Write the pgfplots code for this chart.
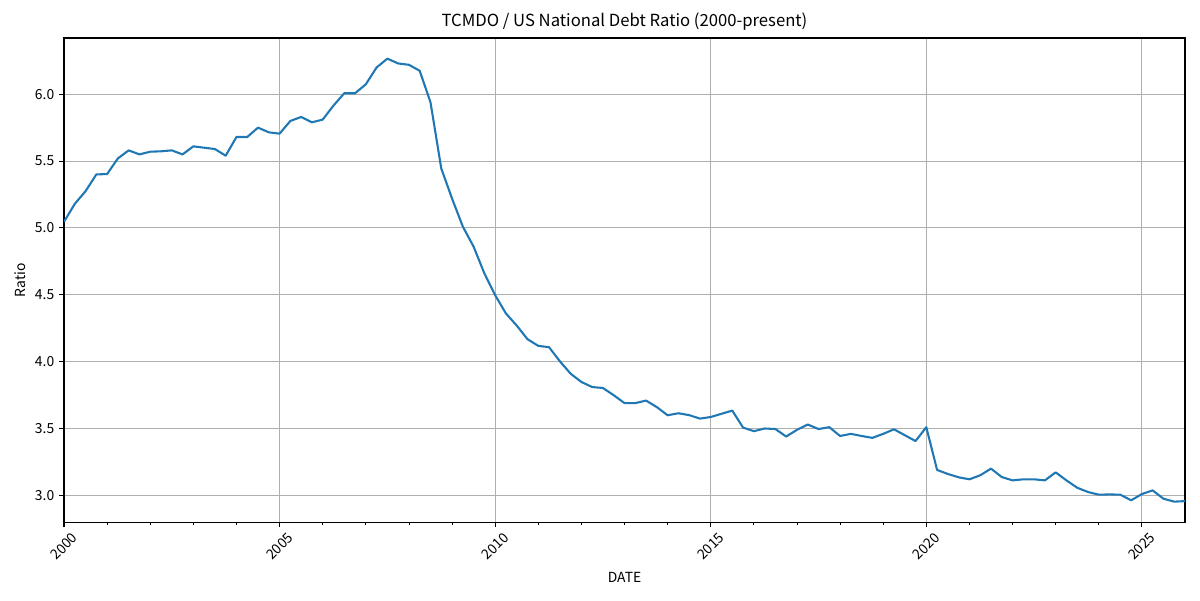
\documentclass[border=0pt]{standalone}
\usepackage{fontspec}
\setmainfont{Noto Sans CJK JP}
\usepackage{pgfplots}
\usepackage{pgfplotstable}
\pgfplotsset{compat=1.18}
\definecolor{tabblue}{HTML}{1F77B4}
\definecolor{gridgray}{HTML}{B0B0B0}

% Quarterly TCMDO / national debt ratio
\pgfplotstableread{
date ratio
2000.00 5.046
2000.25 5.18
2000.50 5.275
2000.75 5.40
2001.00 5.403
2001.25 5.52
2001.50 5.58
2001.75 5.55
2002.00 5.57
2002.25 5.573
2002.50 5.58
2002.75 5.55
2003.00 5.61
2003.25 5.60
2003.50 5.59
2003.75 5.54
2004.00 5.68
2004.25 5.68
2004.50 5.75
2004.75 5.715
2005.00 5.705
2005.25 5.80
2005.50 5.83
2005.75 5.79
2006.00 5.81
2006.25 5.915
2006.50 6.007
2006.75 6.007
2007.00 6.074
2007.25 6.20
2007.50 6.266
2007.75 6.23
2008.00 6.22
2008.25 6.175
2008.50 5.94
2008.75 5.445
2009.00 5.22
2009.25 5.01
2009.50 4.86
2009.75 4.66
2010.00 4.497
2010.25 4.36
2010.50 4.27
2010.75 4.168
2011.00 4.118
2011.25 4.108
2011.50 4.003
2011.75 3.91
2012.00 3.848
2012.25 3.81
2012.50 3.803
2012.75 3.749
2013.00 3.69
2013.25 3.69
2013.50 3.709
2013.75 3.66
2014.00 3.599
2014.25 3.614
2014.50 3.60
2014.75 3.574
2015.00 3.586
2015.25 3.61
2015.50 3.634
2015.75 3.507
2016.00 3.48
2016.25 3.50
2016.50 3.496
2016.75 3.44
2017.00 3.49
2017.25 3.53
2017.50 3.496
2017.75 3.51
2018.00 3.444
2018.25 3.46
2018.50 3.444
2018.75 3.43
2019.00 3.46
2019.25 3.494
2019.50 3.45
2019.75 3.406
2020.00 3.51
2020.25 3.19
2020.50 3.16
2020.75 3.135
2021.00 3.12
2021.25 3.15
2021.50 3.20
2021.75 3.137
2022.00 3.112
2022.25 3.12
2022.50 3.12
2022.75 3.112
2023.00 3.172
2023.25 3.112
2023.50 3.057
2023.75 3.025
2024.00 3.005
2024.25 3.007
2024.50 3.005
2024.75 2.963
2025.00 3.01
2025.25 3.037
2025.50 2.975
2025.75 2.953
2026.00 2.957
}\debtratio

\begin{document}
\begin{tikzpicture}
\path[use as bounding box] (-46.08pt,-56.16pt) rectangle (817.9pt,375.9pt);
\begin{axis}[
  at={(0pt,0pt)}, anchor=south west,
  scale only axis,
  width=807.1pt, height=348.5pt,
  xmin=2000, xmax=2026,
  ymin=2.80, ymax=6.42,
  xtick={2000,2005,...,2025},
  minor x tick num=4,
  ytick={3.0,3.5,...,6.0},
  grid=major,
  major grid style={draw=gridgray, line width=0.8pt},
  axis line style={line width=0.8pt},
  tick align=outside,
  tick pos=left,
  major tick length=3.5pt,
  minor tick length=2pt,
  every tick/.style={black, line width=0.8pt},
  minor tick style={black, line width=0.6pt},
  tick label style={font=\fontsize{10}{12}\selectfont},
  /pgf/number format/assume math mode=true,
  x tick label style={/pgf/number format/1000 sep=, rotate=45, anchor=center},
  xticklabel shift=14pt,
  y tick label style={/pgf/number format/fixed, /pgf/number format/precision=1, /pgf/number format/fixed zerofill},
  title={TCMDO / US National Debt Ratio (2000-present)},
  title style={font=\fontsize{12}{14}\selectfont, yshift=-4pt},
  xlabel={DATE},
  ylabel={Ratio},
  label style={font=\fontsize{10}{12}\selectfont},
  xlabel style={yshift=0pt},
]
\addplot[tabblue, line width=1.5pt, no markers, line join=round] table[x=date, y=ratio] {\debtratio};
\end{axis}
\end{tikzpicture}
\end{document}
